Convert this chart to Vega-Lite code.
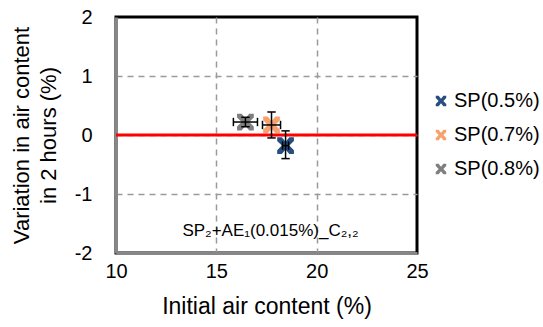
{
  "$schema": "https://vega.github.io/schema/vega-lite/v6.json",
  "width": 301,
  "height": 236,
  "autosize": {"type": "none"},
  "padding": {"left": 116, "top": 17, "right": 126, "bottom": 74},
  "config": {
    "font": "Liberation Sans",
    "view": {"stroke": "#000000", "strokeWidth": 3},
    "axis": {
      "labelFont": "Liberation Sans",
      "labelFontSize": 20,
      "labelColor": "#000000",
      "labelFlush": false,
      "labelOverlap": false,
      "titleFont": "Liberation Sans",
      "titleFontWeight": "normal",
      "titleColor": "#000000",
      "ticks": false,
      "domainColor": "#878787",
      "domainWidth": 3,
      "gridColor": "#9a9a9a",
      "gridWidth": 1.5,
      "gridDash": [6, 5]
    },
    "legend": {
      "labelFont": "Liberation Sans",
      "labelFontSize": 20,
      "labelColor": "#000000"
    }
  },
  "datasets": {
    "pts": [
      {"series": "SP(0.5%)", "x": 18.45, "y": -0.18, "xlo": 18.3, "xhi": 18.6, "ylo": -0.4, "yhi": 0.07},
      {"series": "SP(0.7%)", "x": 17.75, "y": 0.17, "xlo": 17.3, "xhi": 18.2, "ylo": -0.05, "yhi": 0.39},
      {"series": "SP(0.8%)", "x": 16.45, "y": 0.22, "xlo": 15.85, "xhi": 17.05, "ylo": 0.14, "yhi": 0.3}
    ],
    "zero": [{"y": 0}],
    "note": [{"x": 17.7, "y": -1.63, "t": "SP₂+AE₁(0.015%)_C₂,₂"}]
  },
  "layer": [
    {
      "data": {"name": "pts"},
      "mark": {"type": "point", "filled": true, "opacity": 1, "size": 280,
               "shape": "M-1,-1H-0.45L0,-0.45L0.45,-1H1V-0.55L0.45,0L1,0.55V1H0.45L0,0.45L-0.45,1H-1V0.55L-0.45,0L-1,-0.55Z"},
      "encoding": {
        "x": {"field": "x", "type": "quantitative",
              "scale": {"domain": [10, 25], "nice": false, "zero": false},
              "axis": {"values": [10, 15, 20, 25], "title": "Initial air content (%)", "titleFontSize": 23,
                       "labelPadding": 8, "titlePadding": 14,
                       "gridOpacity": {"condition": {"test": "datum.value == 10 || datum.value == 25", "value": 0}, "value": 1}}},
        "y": {"field": "y", "type": "quantitative",
              "scale": {"domain": [-2, 2], "nice": false, "zero": false},
              "axis": {"values": [-2, -1, 0, 1, 2], "labelExpr": "'' + datum.value",
                       "title": ["Variation in air content", "in 2 hours (%)"], "titleFontSize": 22,
                       "labelPadding": 24, "titlePadding": 14, "titleLineHeight": 27,
                       "gridOpacity": {"condition": {"test": "abs(datum.value) == 2", "value": 0}, "value": 1}}},
        "color": {"field": "series", "type": "nominal",
                  "scale": {"domain": ["SP(0.5%)", "SP(0.7%)", "SP(0.8%)"], "range": ["#264F80", "#F6A26E", "#7F7F7F"]},
                  "legend": {"title": null, "orient": "none", "legendX": 315, "legendY": 74,
                             "symbolSize": 110, "rowPadding": 14, "labelOffset": 3,
                             "symbolType": "M-1,-1H-0.45L0,-0.45L0.45,-1H1V-0.55L0.45,0L1,0.55V1H0.45L0,0.45L-0.45,1H-1V0.55L-0.45,0L-1,-0.55Z"}}
      }
    },
    {
      "data": {"name": "zero"},
      "mark": {"type": "rule", "color": "#FF0000", "strokeWidth": 3},
      "encoding": {"y": {"field": "y", "type": "quantitative"}}
    },
    {
      "data": {"name": "pts"},
      "mark": {"type": "rule", "color": "#000000", "strokeWidth": 1.5},
      "encoding": {
        "x": {"field": "xlo", "type": "quantitative"},
        "x2": {"field": "xhi"},
        "y": {"field": "y", "type": "quantitative"}
      }
    },
    {
      "data": {"name": "pts"},
      "mark": {"type": "rule", "color": "#000000", "strokeWidth": 1.5},
      "encoding": {
        "x": {"field": "x", "type": "quantitative"},
        "y": {"field": "ylo", "type": "quantitative"},
        "y2": {"field": "yhi"}
      }
    },
    {
      "data": {"name": "pts"},
      "mark": {"type": "point", "shape": "M-1,0L1,0", "size": 70, "stroke": "#000000", "strokeWidth": 1.5, "filled": false, "opacity": 1},
      "encoding": {
        "x": {"field": "x", "type": "quantitative"},
        "y": {"field": "ylo", "type": "quantitative"}
      }
    },
    {
      "data": {"name": "pts"},
      "mark": {"type": "point", "shape": "M-1,0L1,0", "size": 70, "stroke": "#000000", "strokeWidth": 1.5, "filled": false, "opacity": 1},
      "encoding": {
        "x": {"field": "x", "type": "quantitative"},
        "y": {"field": "yhi", "type": "quantitative"}
      }
    },
    {
      "data": {"name": "pts"},
      "mark": {"type": "point", "shape": "M0,-1L0,1", "size": 70, "stroke": "#000000", "strokeWidth": 1.5, "filled": false, "opacity": 1},
      "encoding": {
        "x": {"field": "xlo", "type": "quantitative"},
        "y": {"field": "y", "type": "quantitative"}
      }
    },
    {
      "data": {"name": "pts"},
      "mark": {"type": "point", "shape": "M0,-1L0,1", "size": 70, "stroke": "#000000", "strokeWidth": 1.5, "filled": false, "opacity": 1},
      "encoding": {
        "x": {"field": "xhi", "type": "quantitative"},
        "y": {"field": "y", "type": "quantitative"}
      }
    },
    {
      "data": {"name": "note"},
      "mark": {"type": "text", "fontSize": 17, "color": "#000000", "align": "center", "baseline": "middle"},
      "encoding": {
        "x": {"field": "x", "type": "quantitative"},
        "y": {"field": "y", "type": "quantitative"},
        "text": {"field": "t"}
      }
    }
  ]
}
